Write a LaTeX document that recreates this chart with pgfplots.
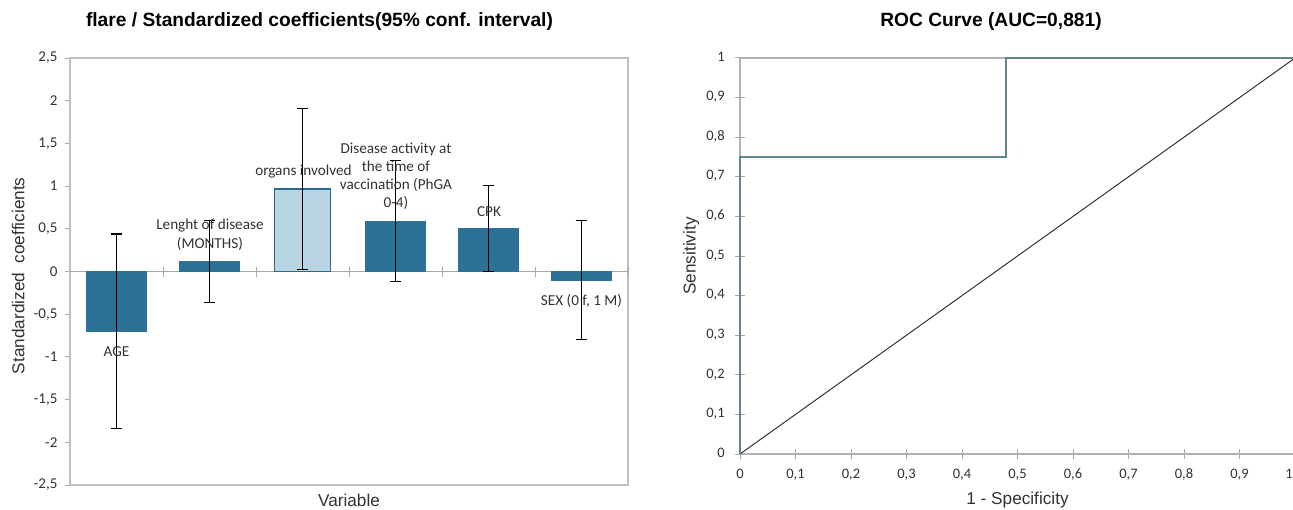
\documentclass[border=0pt]{standalone}
\usepackage{pgfplots}
\pgfplotsset{compat=1.18}
\usepackage{fontspec}
\setmainfont{Liberation Sans}
\newfontfamily\carlito{Carlito}
\definecolor{barblue}{RGB}{44,114,150}
\definecolor{barlight}{RGB}{185,213,227}
\definecolor{barborder}{RGB}{40,105,140}
\definecolor{roc}{RGB}{96,135,145}
\definecolor{txt}{RGB}{50,50,50}

\pgfplotstableread{
x y e
0 -0.70 1.14
1 0.12 0.48
3 0.59 0.71
4 0.505 0.505
5 -0.10 0.695
}\bardata
\pgfplotstableread{
x y e
2 0.965 0.945
}\lightdata
\pgfplotstableread{
x y
0 0
0 0.75
0.479 0.75
0.479 1
1 1
}\rocdata
\pgfplotstableread{
x y
0 0
1 1
}\diagdata

\begin{document}
\begin{tikzpicture}
\useasboundingbox (0,0) rectangle (646.5pt,254.5pt);
% ---------------- left chart
\begin{axis}[
  at={(35pt,12pt)}, anchor=south west,
  scale only axis, width=279pt, height=213.5pt,
  xmin=-0.5, xmax=5.5, ymin=-2.5, ymax=2.5,
  xtick=\empty,
  ytick={-2.5,-2,-1.5,-1,-0.5,0,0.5,1,1.5,2,2.5},
  ytick pos=left,
  tick align=outside, major tick length=2.5pt,
  tick style={gray!70, line width=0.5pt},
  axis line style={gray!50, line width=0.9pt},
  /pgf/number format/use comma,
  /pgf/number format/assume math mode=true,
  yticklabel style={font=\carlito\fontsize{7.5}{8}\selectfont, text=txt, inner sep=3.6pt},
  ylabel={Standardized\ \ coefficients},
  ylabel style={at={(axis description cs:-0.093,0.49)}, anchor=center, font=\fontsize{8.6}{10}\selectfont, text=txt},
  xlabel={Variable},
  xlabel style={at={(axis description cs:0.5,-0.035)}, anchor=center, font=\fontsize{8.6}{10}\selectfont, text=txt},
  clip=false,
  every axis plot/.append style={bar shift=0pt},
]
\addplot[gray!70, line width=0.6pt] coordinates {(-0.5,0) (5.5,0)};
\addplot[only marks, mark=|, mark size=2.5pt, gray!70, mark options={line width=0.5pt}] coordinates {(0.5,0) (1.5,0) (2.5,0) (3.5,0) (4.5,0) (5.5,0)};
\addplot[ybar, bar width=0.64, fill=barblue, draw=barblue, line width=0.3pt,
  error bars/.cd, y dir=both, y explicit,
  error bar style={black, line width=0.6pt},
  error mark options={rotate=90, mark size=2.8pt, black, line width=0.6pt}]
  table[x=x, y=y, y error=e] {\bardata};
\addplot[ybar, bar width=0.6, fill=barlight, draw=barborder, line width=0.8pt,
  error bars/.cd, y dir=both, y explicit,
  error bar style={black, line width=0.6pt},
  error mark options={rotate=90, mark size=2.8pt, black, line width=0.6pt}]
  table[x=x, y=y, y error=e] {\lightdata};
\begin{scope}[every node/.style={font=\carlito\fontsize{7.6}{9.1}\selectfont, text=txt, align=center, inner sep=0pt}]
\node at (axis cs:0.0,-0.94) {AGE};
\node at (axis cs:1.005,0.43) {Lenght of disease\\(MONTHS)};
\node at (axis cs:2.01,1.17) {organs involved};
\node at (axis cs:3.005,1.115) {Disease activity at\\the time of\\vaccination (PhGA\\0-4)};
\node at (axis cs:4.005,0.70) {CPK};
\node at (axis cs:5.0,-0.34) {SEX (0 f, 1 M)};
\end{scope}
\end{axis}
\node[font=\bfseries\fontsize{9.6}{11}\selectfont] at (159.75pt,243.5pt) {flare / Standardized coefficients(95\% conf. interval)};
% ---------------- right chart
\begin{axis}[
  at={(370pt,27.5pt)}, anchor=south west,
  scale only axis, width=277.5pt, height=198pt,
  xmin=0, xmax=1, ymin=0, ymax=1,
  xtick={0,0.1,0.2,0.3,0.4,0.5,0.6,0.7,0.8,0.9},
  extra x ticks={1},
  extra x tick style={xticklabel style={anchor=north east, xshift=-1pt}},
  ytick={0,0.1,0.2,0.3,0.4,0.5,0.6,0.7,0.8,0.9,1},
  xtick pos=bottom, ytick pos=left,
  tick align=center, major tick length=5pt,
  tick style={gray!70, line width=0.5pt},
  axis line style={gray!60, line width=0.9pt},
  /pgf/number format/use comma,
  /pgf/number format/assume math mode=true,
  typeset ticklabels with strut,
  ticklabel style={font=\carlito\fontsize{7.25}{8}\selectfont, text=txt},
  yticklabel style={inner sep=0pt, xshift=-5pt},
  xticklabel style={inner sep=0pt, yshift=-4pt},
  ylabel={Sensitivity},
  ylabel style={at={(axis description cs:-0.088,0.5)}, anchor=center, font=\fontsize{8.6}{10}\selectfont, text=txt},
  xlabel={1 - Specificity},
  xlabel style={at={(axis description cs:0.5,-0.116)}, anchor=center, font=\fontsize{8.6}{10}\selectfont, text=txt},
  clip=false,
]
\addplot[black!80, line width=0.5pt] table[x=x,y=y] {\diagdata};
\addplot[roc, line width=0.8pt] table[x=x,y=y] {\rocdata};
\end{axis}
\node[font=\bfseries\fontsize{9.6}{11}\selectfont] at (495.5pt,243.5pt) {ROC Curve (AUC=0,881)};
\end{tikzpicture}
\end{document}
